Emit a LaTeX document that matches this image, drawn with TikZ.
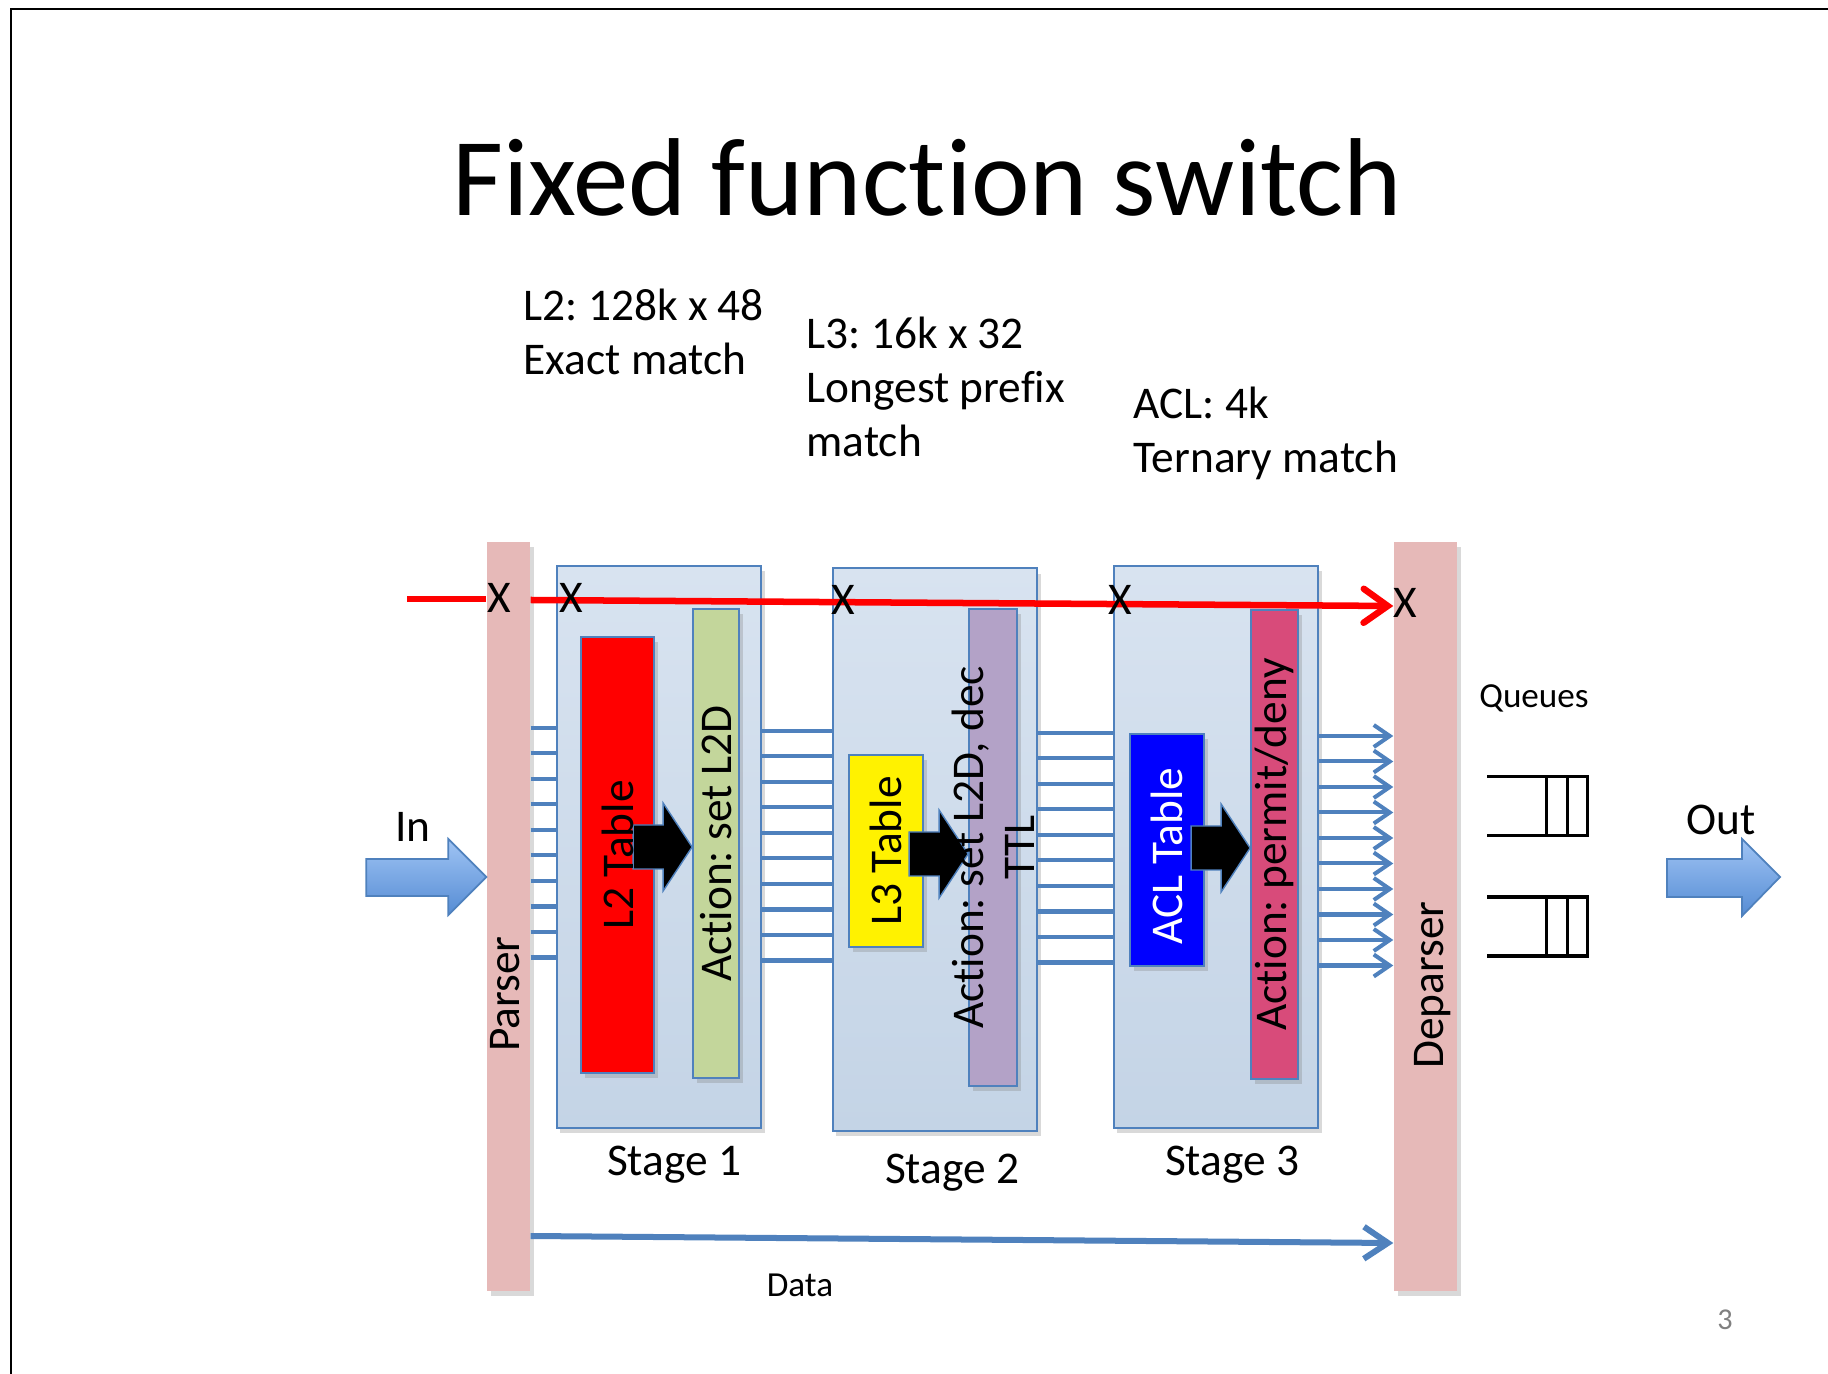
\documentclass[tikz,border=0pt]{standalone}
\usepackage{fontspec}
\setmainfont{Carlito}[Ligatures=NoCommon]
\usetikzlibrary{arrows.meta,shadows}

\definecolor{barpink}{RGB}{230,185,184}
\definecolor{stagetop}{RGB}{216,227,240}
\definecolor{stagebot}{RGB}{196,212,230}
\definecolor{edgeblue}{RGB}{79,129,189}
\definecolor{actgreen}{RGB}{195,214,155}
\definecolor{actpurple}{RGB}{179,162,199}
\definecolor{actpink}{RGB}{216,75,122}
\definecolor{arrtop}{RGB}{160,196,244}
\definecolor{arrbot}{RGB}{85,140,212}

\newcommand{\slidefont}{\fontsize{12.9}{15.4}\selectfont}
\frenchspacing

\begin{document}
\begin{tikzpicture}[x=0.01cm, y=-0.01cm,
		pbar/.style={fill=barpink, inner sep=0pt, minimum height=7.49cm,
			drop shadow={shadow xshift=1pt, shadow yshift=-1.5pt, opacity=0.3}},
		stage/.style={draw=edgeblue, line width=0.5pt, top color=stagetop, bottom color=stagebot,
			inner sep=0pt, minimum width=2.04cm, minimum height=5.62cm,
			drop shadow={shadow xshift=1pt, shadow yshift=-1.5pt, opacity=0.3}},
		tbl/.style={draw=edgeblue, line width=0.5pt, inner sep=0pt,
			drop shadow={shadow xshift=1pt, shadow yshift=-1.5pt, opacity=0.3}},
		vtext/.style={rotate=90, inner sep=0pt, font=\slidefont},
		txt/.style={inner sep=0pt, font=\slidefont},
		bus/.style={draw=edgeblue, line width=0.04cm},
		redline/.style={draw=red, line width=0.065cm},
		bigarrow/.style={draw=edgeblue, line width=0.5pt, top color=arrtop, bottom color=arrbot},
		blkarr/.style={fill=black, draw=edgeblue, line width=0.4pt},
		qline/.style={line width=0.03cm}]
	\useasboundingbox (0,0) rectangle (1828,1374);

	% Slide frame
	\draw[line width=0.025cm] (11,1374) -- (11,9) -- (1828,9);

	% Title
	\node[anchor=base, inner sep=0pt, font=\fontsize{31.5}{38}\selectfont] (title) at (927,216) {Fixed function switch};

	% Table sizes (anchored at the last line)
	\node[txt, anchor=base west, align=left] (l2info) at (523,375) {L2: 128k x 48\\Exact match};
	\node[txt, anchor=base west, align=left] (l3info) at (806,457) {L3: 16k x 32\\Longest prefix\\match};
	\node[txt, anchor=base west, align=left] (aclinfo) at (1133,473) {ACL: 4k\\Ternary match};

	% Stages
	\node[stage] (stage1) at (659,847) {};
	\node[stage] (stage2) at (935,849.5) {};
	\node[stage] (stage3) at (1216,847) {};

	% Tables and actions
	\node[tbl, fill=red, minimum width=0.73cm, minimum height=4.36cm] (l2) at (617.5,855) {};
	\node[tbl, fill=actgreen, minimum width=0.46cm, minimum height=4.69cm] (act1) at (716,843.5) {};
	\node[tbl, fill=yellow, minimum width=0.74cm, minimum height=1.92cm] (l3) at (886,851) {};
	\node[tbl, fill=actpurple, minimum width=0.48cm, minimum height=4.77cm] (act2) at (993,847.5) {};
	\node[tbl, fill=blue, minimum width=0.74cm, minimum height=2.32cm] (acl) at (1167,850) {};
	\node[tbl, fill=actpink, minimum width=0.47cm, minimum height=4.69cm] (act3) at (1274.5,844.5) {};

	% Table to action arrows
	\foreach \a/\y in {act1/847, act2/854, act3/848}
		\filldraw[blkarr] (\a.west |- 0,\y) -- ++(-29,-44) -- ++(0,22) -- ++(-30,0)
			-- ++(0,44) -- ++(30,0) -- ++(0,22) -- cycle;

	\node[vtext] (l2txt) at (l2) {L2 Table};
	\node[vtext] (act1txt) at (act1) {Action: set L2D};
	\node[vtext] (l3txt) at (l3) {L3 Table};
	\node[vtext, align=center, font=\fontsize{12.9}{14.5}\selectfont] (act2txt) at (act2) {Action: set L2D, dec\\TTL};
	\node[vtext, text=white] (acltxt) at (1167,856) {ACL Table};
	\node[vtext] (act3txt) at (act3) {Action: permit/deny};

	% Parser and deparser
	\node[pbar, minimum width=0.43cm] (parser) at (508.5,916.5) {};
	\node[pbar, minimum width=0.63cm] (deparser) at (1425.5,916.5) {};
	\node[vtext] (parsertxt) at (505,994) {Parser};
	\node[vtext] (deparsertxt) at (1433,985) {Deparser};

	% Header bus between stages
	\foreach \a/\b/\s in {parser/stage1/728, stage1/stage2/731, stage2/stage3/733}
		\foreach \i in {0,...,9} {
			\pgfmathsetmacro\yy{\s+25.5*\i}
			\draw[bus] (\a.east |- 0,\yy) -- (\b.west |- 0,\yy);
		}
	\foreach \i in {0,...,9} {
		\pgfmathsetmacro\yy{736+25.5*\i}
		\draw[bus, -{Straight Barb[length=0.16cm, width=0.22cm]}] (stage3.east |- 0,\yy) -- (deparser.west |- 0,\yy);
	}

	% Control flow
	\coordinate (redstart) at (407,599);
	\draw[redline] (redstart) -- (parser.west |- redstart);
	\draw[redline, -{Straight Barb[length=0.24cm, width=0.34cm, line cap=round]}] (parser.east |- 0,600) -- (deparser.west |- 0,606);
	\node[txt] (x0) at (499,598) {X};
	\node[txt] (x1) at (571,598) {X};
	\node[txt] (x2) at (843,600) {X};
	\node[txt] (x3) at (1120,600) {X};
	\node[txt] (x4) at (1405,603) {X};

	% Stage labels
	\node[txt, anchor=base] (s1lbl) at (674,1175) {Stage 1};
	\node[txt, anchor=base] (s2lbl) at (952,1183) {Stage 2};
	\node[txt, anchor=base] (s3lbl) at (1232,1175) {Stage 3};

	% Data path
	\draw[bus, line width=0.06cm, -{Straight Barb[length=0.24cm, width=0.32cm]}] (parser.east |- 0,1236) -- (deparser.west |- 0,1243);
	\node[inner sep=0pt, anchor=base, font=\fontsize{10}{12}\selectfont] (datalbl) at (800,1296) {Data};

	% In and out
	\shadedraw[bigarrow] (parser.west |- 0,877) -- ++(-38,-38) -- ++(0,20) -- ++(-82,0)
		-- ++(0,37) -- ++(82,0) -- ++(0,19) -- cycle;
	\node[txt, anchor=base] (inlbl) at (413,842) {In};
	\coordinate (outtip) at (1780,877);
	\shadedraw[bigarrow] (outtip) -- ++(-38,-38) -- ++(0,20) -- ++(-75,0)
		-- ++(0,38) -- ++(75,0) -- ++(0,19) -- cycle;
	\node[txt, anchor=base] (outlbl) at (1721,835) {Out};

	% Queues
	\node[inner sep=0pt, anchor=base, font=\fontsize{10}{12}\selectfont] (qlbl) at (1534,708) {Queues};
	\foreach \y in {777, 897} {
		\draw[qline] (1487,\y) -- (1587,\y) -- (1587,\y+59) -- (1487,\y+59);
		\draw[qline] (1546,\y) -- (1546,\y+59) (1567,\y) -- (1567,\y+59);
	}

	% Page number
	\node[inner sep=0pt, text=black!50, font=\fontsize{8.6}{10}\selectfont] (pgnum) at (1725,1320) {3};
\end{tikzpicture}
\end{document}
